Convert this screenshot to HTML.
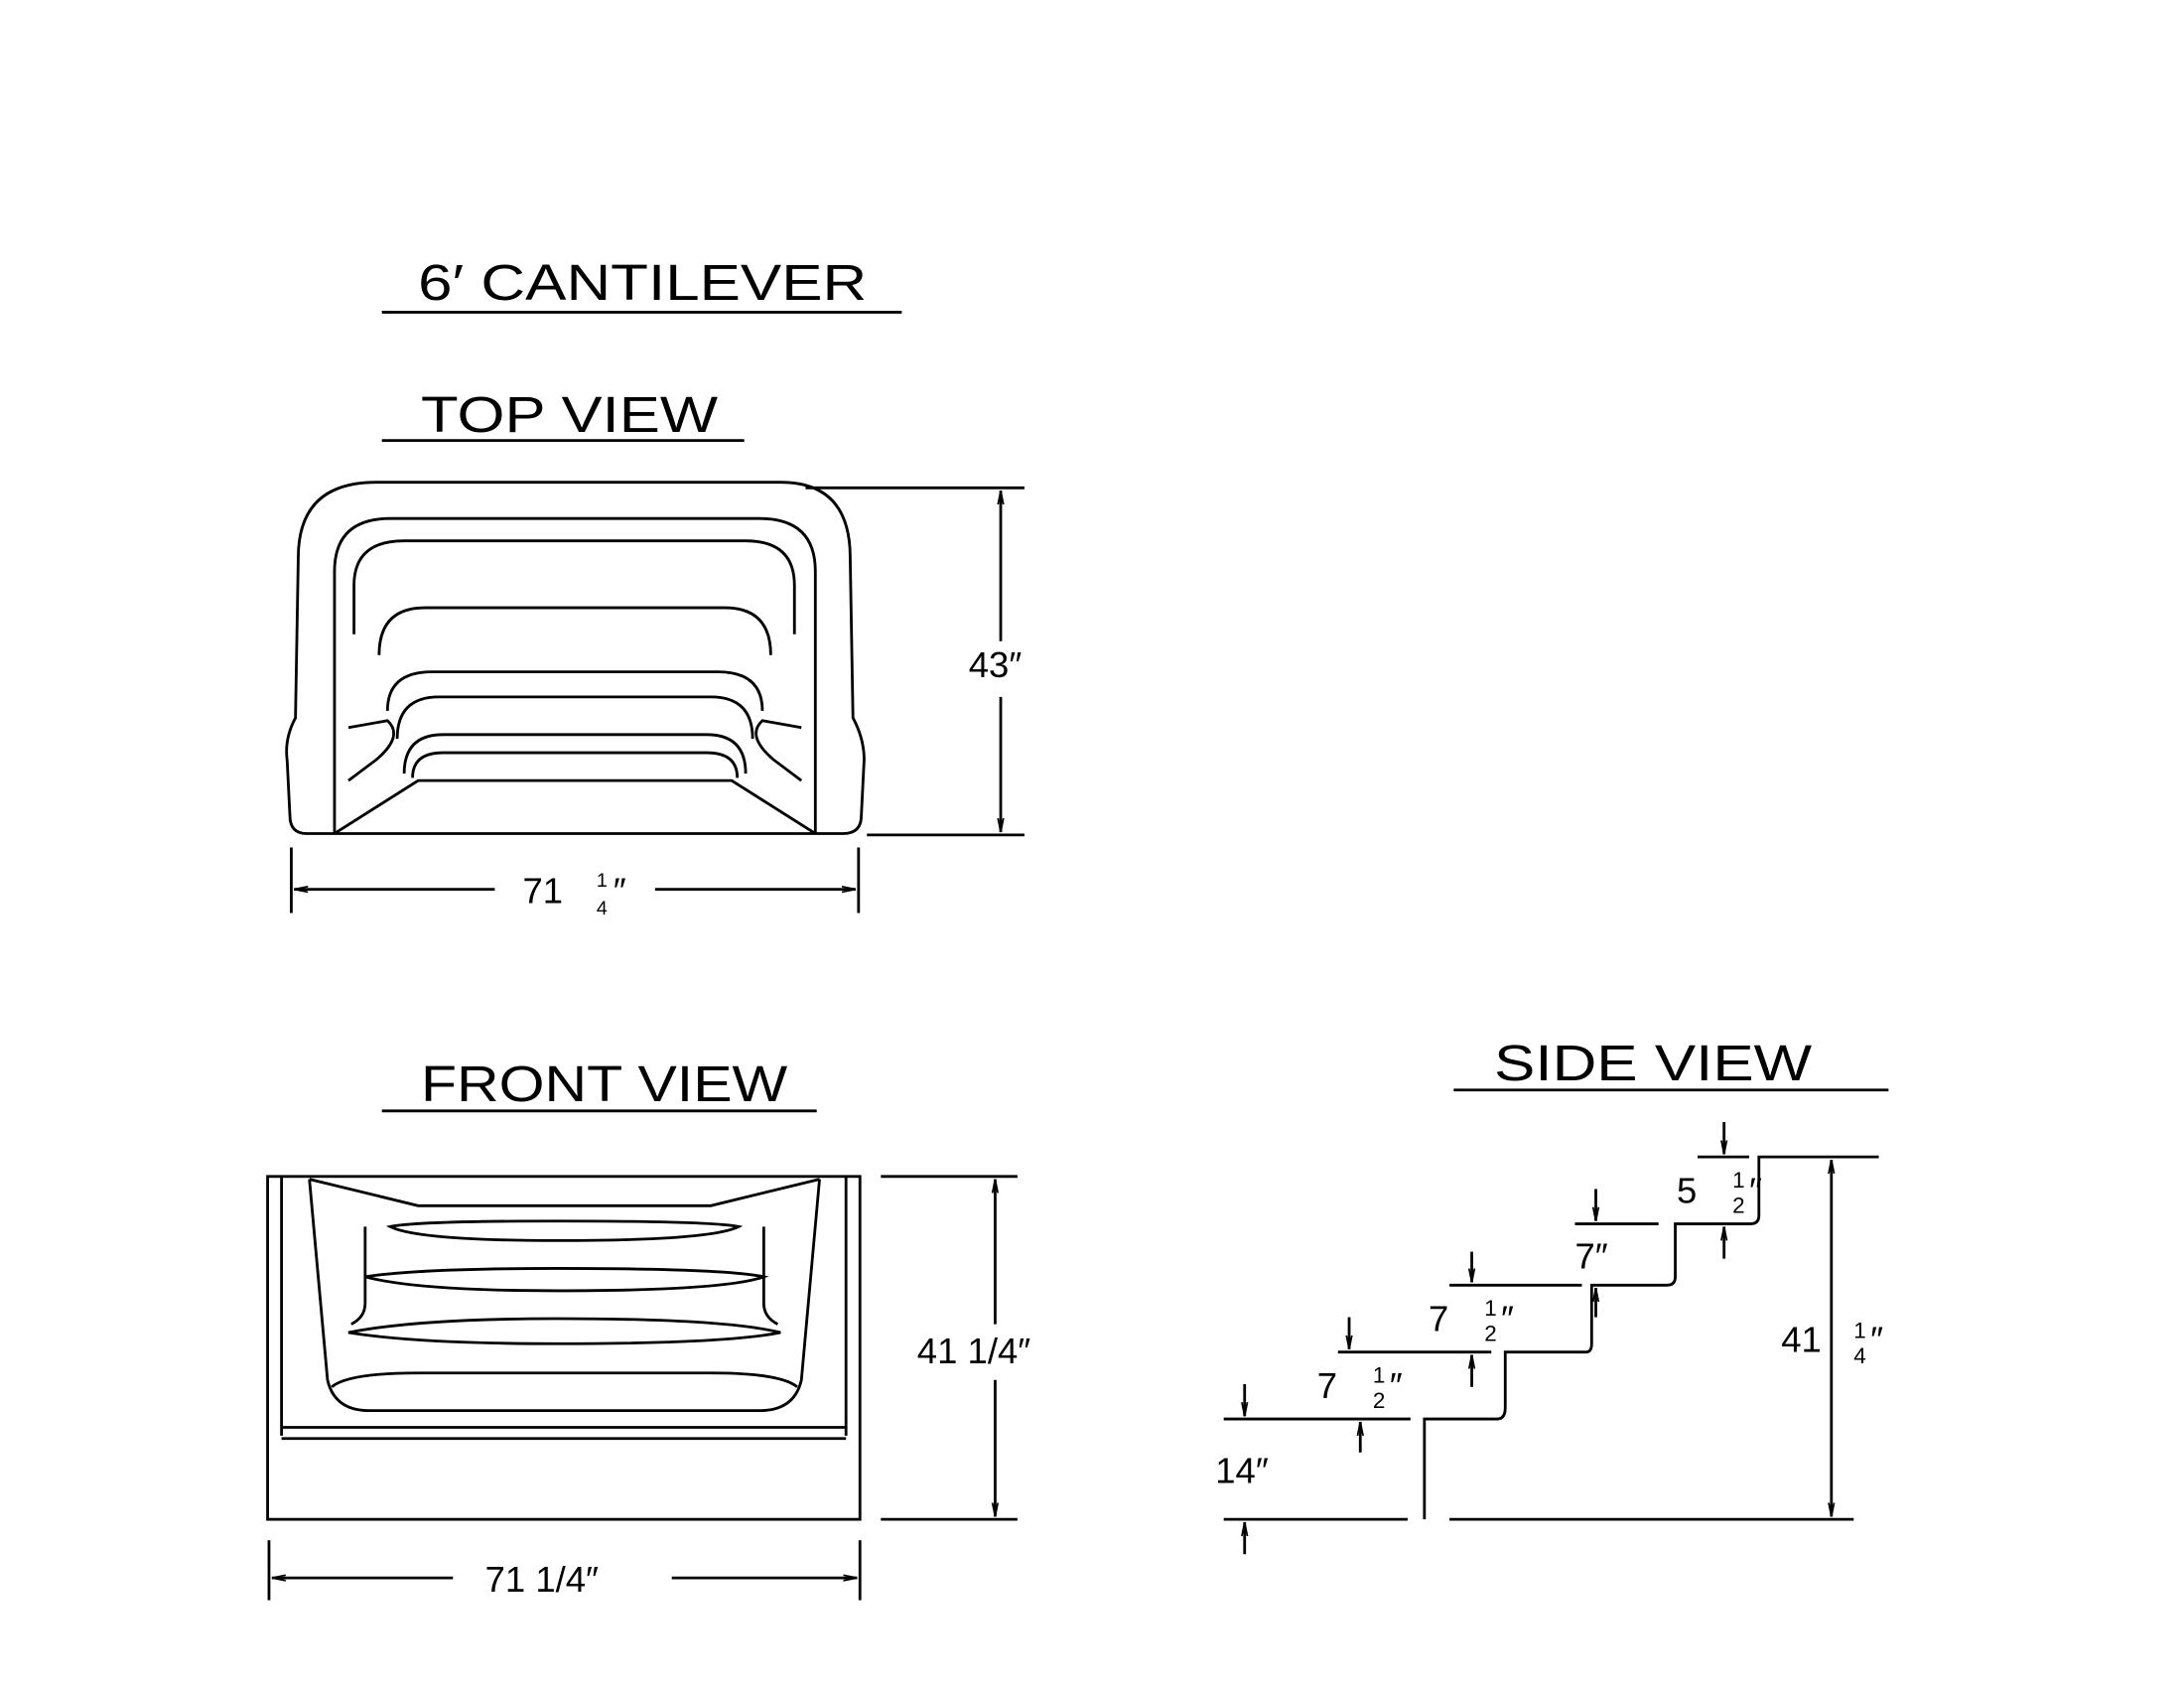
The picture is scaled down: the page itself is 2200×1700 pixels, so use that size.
<!DOCTYPE html>
<html><head><meta charset="utf-8"><style>
html,body{margin:0;padding:0;background:#fff;}
svg{display:block}
text{font-family:"Liberation Sans",sans-serif;fill:#000;}
</style></head><body>
<svg width="2200" height="1700" viewBox="0 0 1567 1211" preserveAspectRatio="none" xmlns="http://www.w3.org/2000/svg">
<defs>
<marker id="a" viewBox="0 0 10 10" refX="10" refY="5" markerWidth="10" markerHeight="10" orient="auto-start-reverse" markerUnits="userSpaceOnUse"><path d="M0,3 L10,5 L0,7" fill="none" stroke="#000" stroke-width="1.2"/></marker>
</defs>
<g stroke="#000" stroke-width="2" fill="none">
<line x1="274" y1="224" x2="647" y2="224"/>
<line x1="274" y1="316" x2="534" y2="316"/>
<line x1="274" y1="797" x2="586" y2="797"/>
<line x1="1043" y1="782" x2="1355" y2="782"/>

<path d="M220,598 Q208,598 208,585 L206,545 Q204,530 212,515 L214,400 Q214,346 270,346 L560,346 Q610,346 610,400 L612,515 Q620,530 620,545 L618,585 Q618,598 605,598 Z"/>
<path d="M240,598 L240,410 Q240,372 280,372 L545,372 Q585,372 585,410 L585,598"/>
<path d="M240,598 L300,560 L525,560 L585,598"/>
<path d="M254,455 L254,420 Q254,388 290,388 L535,388 Q570,388 570,420 L570,455"/>
<path d="M272,470 Q272,436 305,436 L520,436 Q553,436 553,470"/>
<path d="M278,510 Q278,482 310,482 L515,482 Q547,482 547,510"/>
<path d="M285,530 Q285,500 315,500 L510,500 Q540,500 540,530"/>
<path d="M290,555 Q290,527 318,527 L507,527 Q535,527 535,555"/>
<path d="M296,558 Q296,540 318,540 L507,540 Q529,540 529,558"/>
<path d="M250,522 L278,517 Q290,528 270,545 L250,560"/>
<path d="M575,522 L547,517 Q535,528 555,545 L575,560"/>
<line x1="578" y1="350" x2="735" y2="350"/>
<line x1="622" y1="599" x2="735" y2="599"/>
<line x1="718" y1="460" x2="718" y2="352" marker-end="url(#a)"/>
<line x1="718" y1="500" x2="718" y2="597" marker-end="url(#a)"/>
<line x1="209" y1="608" x2="209" y2="655"/>
<line x1="616" y1="608" x2="616" y2="655"/>
<line x1="211" y1="638" x2="355" y2="638" marker-start="url(#a)"/>
<line x1="470" y1="638" x2="614" y2="638" marker-end="url(#a)"/>

<rect x="192" y="844" width="425" height="246"/>
<line x1="202" y1="844" x2="202" y2="1030"/>
<line x1="607" y1="844" x2="607" y2="1030"/>
<line x1="202" y1="1024" x2="607" y2="1024"/>
<line x1="202" y1="1032" x2="607" y2="1032"/>
<path d="M222,846 L235,990 Q240,1012 265,1012 L545,1012 Q570,1012 575,990 L588,846"/>
<path d="M222,846 L300,865 L510,865 L588,846"/>
<path d="M238,995 Q250,985 300,985 L510,985 Q560,985 572,995"/>
<path d="M280,880 Q300,890 400,890 Q510,890 530,880 Q510,876 400,876 Q300,876 280,880 Z"/>
<path d="M262,916 Q300,926 400,926 Q520,926 548,916 Q520,910 400,910 Q300,910 262,916 Z"/>
<path d="M250,956 Q300,964 400,964 Q520,964 560,956 Q520,946 400,946 Q300,946 250,956 Z"/>
<path d="M262,880 L262,935 Q262,945 252,950"/>
<path d="M548,880 L548,935 Q548,945 558,950"/>
<line x1="632" y1="844" x2="730" y2="844"/>
<line x1="632" y1="1090" x2="730" y2="1090"/>
<line x1="714" y1="950" x2="714" y2="846" marker-end="url(#a)"/>
<line x1="714" y1="990" x2="714" y2="1088" marker-end="url(#a)"/>
<line x1="193" y1="1105" x2="193" y2="1148"/>
<line x1="617" y1="1105" x2="617" y2="1148"/>
<line x1="195" y1="1132" x2="325" y2="1132" marker-start="url(#a)"/>
<line x1="482" y1="1132" x2="615" y2="1132" marker-end="url(#a)"/>

<path d="M1022,1090 L1022,1018 L1074,1018 Q1080,1018 1080,1010 L1080,970 L1138,970 Q1142,970 1142,964 L1142,922 L1196,922 Q1202,922 1202,916 L1202,878 L1256,878 Q1262,878 1262,872 L1262,830 L1348,830"/>
<line x1="1040" y1="1090" x2="1330" y2="1090"/>
<line x1="878" y1="1090" x2="1010" y2="1090"/>
<line x1="878" y1="1018" x2="1012" y2="1018"/>
<line x1="960" y1="970" x2="1070" y2="970"/>
<line x1="1040" y1="922" x2="1135" y2="922"/>
<line x1="1130" y1="878" x2="1190" y2="878"/>
<line x1="1218" y1="830" x2="1255" y2="830"/>
<line x1="1314" y1="832" x2="1314" y2="1088" marker-start="url(#a)" marker-end="url(#a)"/>
<line x1="893" y1="1115" x2="893" y2="1092" marker-end="url(#a)"/>
<line x1="893" y1="993" x2="893" y2="1016" marker-end="url(#a)"/>
<line x1="976" y1="1042" x2="976" y2="1020" marker-end="url(#a)"/>
<line x1="968" y1="945" x2="968" y2="968" marker-end="url(#a)"/>
<line x1="1056" y1="995" x2="1056" y2="972" marker-end="url(#a)"/>
<line x1="1056" y1="898" x2="1056" y2="920" marker-end="url(#a)"/>
<line x1="1145" y1="945" x2="1145" y2="924" marker-end="url(#a)"/>
<line x1="1145" y1="853" x2="1145" y2="876" marker-end="url(#a)"/>
<line x1="1237" y1="903" x2="1237" y2="880" marker-end="url(#a)"/>
<line x1="1237" y1="805" x2="1237" y2="828" marker-end="url(#a)"/>
</g>

<g font-size="36">
<text x="300" y="215" textLength="322" lengthAdjust="spacingAndGlyphs">6′ CANTILEVER</text>
<text x="302" y="310" textLength="213" lengthAdjust="spacingAndGlyphs">TOP VIEW</text>
<text x="302" y="790" textLength="263" lengthAdjust="spacingAndGlyphs">FRONT VIEW</text>
<text x="1072" y="775" textLength="228" lengthAdjust="spacingAndGlyphs">SIDE VIEW</text>
</g>
<g font-size="26">
<text x="695" y="486">43″</text>
<text x="375" y="648">71</text><text x="428" y="636" font-size="14">1</text><text x="428" y="656" font-size="14">4</text><text x="440" y="648">″</text>
<text x="658" y="978">41 1/4″</text>
<text x="348" y="1142">71 1/4″</text>
<text x="872" y="1064">14″</text>
<text x="945" y="1003">7</text><text x="985" y="992" font-size="16">1</text><text x="985" y="1010" font-size="16">2</text><text x="997" y="1003">″</text>
<text x="1025" y="955">7</text><text x="1065" y="944" font-size="16">1</text><text x="1065" y="962" font-size="16">2</text><text x="1077" y="955">″</text>
<text x="1130" y="910">7″</text>
<text x="1203" y="863">5</text><text x="1243" y="852" font-size="16">1</text><text x="1243" y="870" font-size="16">2</text><text x="1255" y="863">″</text>
<text x="1278" y="970">41</text><text x="1330" y="960" font-size="16">1</text><text x="1330" y="978" font-size="16">4</text><text x="1342" y="970">″</text>
</g>
</svg>
</body></html>
